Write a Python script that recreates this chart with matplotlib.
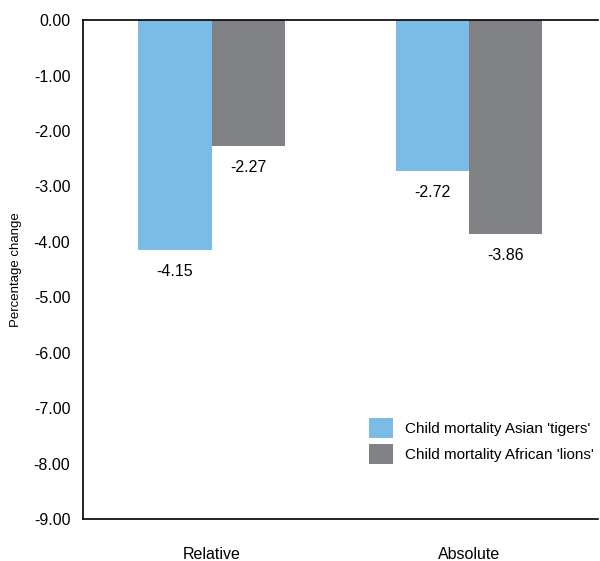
import matplotlib
matplotlib.use("Agg")
import matplotlib.pyplot as plt
import numpy as np

plt.rcParams['font.family'] = ['Liberation Sans', 'DejaVu Sans']

categories = ['Relative', 'Absolute']
series_names = ["Child mortality Asian 'tigers'", "Child mortality African 'lions'"]
tigers = [-4.15, -2.72]
lions = [-2.27, -3.86]
yticks = np.arange(0, -10, -1)

blue = '#7bbce7'
grey = '#808185'

fig = plt.figure(figsize=(6, 5.61), dpi=100)
ax = fig.add_axes([0.138, 0.075, 0.858, 0.889])

x = np.arange(len(categories))
w = 0.285
b1 = ax.bar(x - w / 2, tigers, w, color=blue, label=series_names[0])
b2 = ax.bar(x + w / 2, lions, w, color=grey, label=series_names[1])

# value labels just under the end of each bar
for bars, vals in ((b1, tigers), (b2, lions)):
    for rect, v in zip(bars, vals):
        ax.annotate('%.2f' % v, (rect.get_x() + rect.get_width() / 2, v),
                    xytext=(0, -10), textcoords='offset points',
                    ha='center', va='top', fontsize=11.5)

ax.set_xlim(-0.5, 1.5)
ax.set_ylim(-9, 0)
ax.set_yticks(yticks)
ax.set_yticklabels(['%.2f' % t for t in yticks], fontsize=11.5)
ax.set_xticks(x)
ax.set_xticklabels(categories, fontsize=11.5)
ax.tick_params(axis='y', length=0, pad=9)
ax.tick_params(axis='x', length=0, pad=20)
ax.spines['right'].set_visible(False)
for s in ('left', 'top', 'bottom'):
    ax.spines[s].set_linewidth(1.2)
ax.set_ylabel('Percentage change', fontsize=9.5)
ax.yaxis.set_label_coords(-0.118, 0.5)

ax.legend(loc='upper left', bbox_to_anchor=(0.5474, 0.2108), frameon=False,
          fontsize=11, handlelength=1.55, handleheight=1.55,
          handletextpad=0.8, labelspacing=0.45, borderpad=0.3,
          borderaxespad=0)

fig.savefig('out.png', dpi=100)
